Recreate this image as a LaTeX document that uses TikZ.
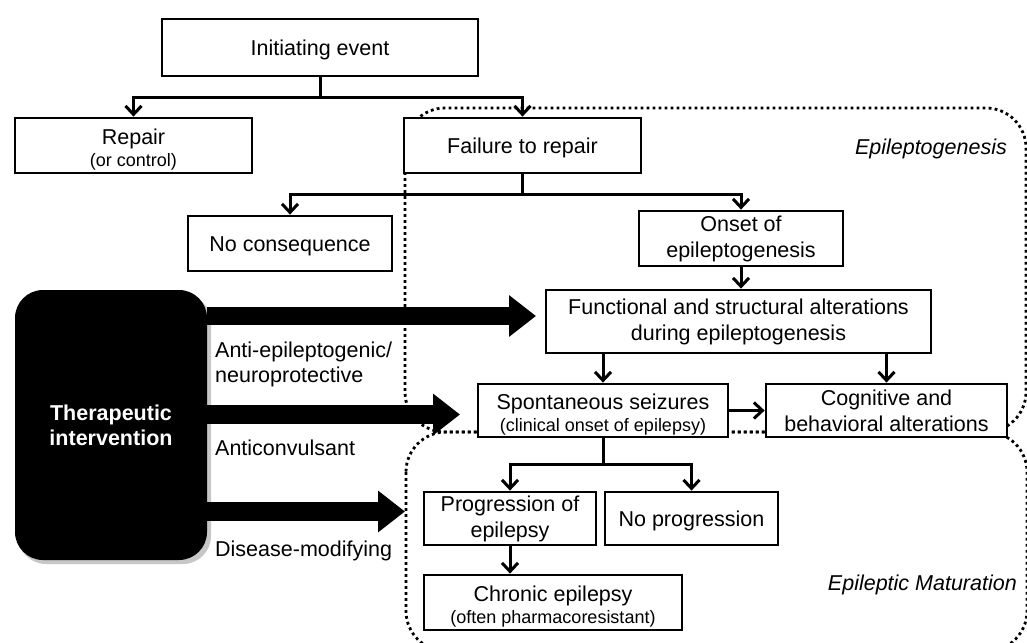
\documentclass[tikz,border=0pt]{standalone}
\usepackage{fontspec}
\setmainfont{Liberation Sans}
\usetikzlibrary{arrows.meta}
\newcommand\mainsz{\fontsize{21.5}{26}\selectfont}
\newcommand\smallsz{\fontsize{18}{21}\selectfont}
\begin{document}
\begin{tikzpicture}[x=1pt,y=-1pt,
  box/.style={draw,line width=2.8pt,fill=white,inner sep=0pt,align=center,font=\mainsz,
              execute at begin node={\rule{0pt}{21pt}}},
  conn/.style={line width=3pt,-{Straight Barb[length=8.5pt,width=16pt]}},
  plain/.style={line width=3pt},
  region/.style={line width=2.8pt,dash pattern=on 2.8pt off 3.2pt,rounded corners=40pt},
  bigarrow/.style={line width=18.5pt,-{Triangle[length=27pt,width=40pt]}},
  lbl/.style={font=\mainsz,inner sep=0pt},
  ital/.style={font=\mainsz\itshape,inner sep=0pt}]
\useasboundingbox (0,0) rectangle (1027,642);
\clip (0,0) rectangle (1027,642);
\fill[white] (0,0) rectangle (1027,642);

% dotted regions
\draw[region] (405,108) rectangle (1026,432);
\draw[region] (406,432) rectangle (1027,651);

% therapeutic intervention
\fill[black!22,rounded corners=28pt] (18,294) rectangle (211,564);
\node[fill=black,rounded corners=28pt,minimum width=192pt,minimum height=270pt,inner sep=0pt,
      align=center,text=white,font=\mainsz\bfseries] (ther) at (111,425) {Therapeutic\\[-1pt]intervention};

% boxes
\node[box,minimum width=316pt,minimum height=57pt] (init) at (320,47.5) {Initiating event};
\node[box,minimum width=237pt,minimum height=55pt] (repair) at (133.5,145.5) {\rule{0pt}{23pt}Repair\\[-4pt]{\smallsz (or control)}};
\node[box,minimum width=237pt,minimum height=55pt] (fail) at (522.5,145.5) {Failure to repair};
\node[box,minimum width=204pt,minimum height=55pt] (nocons) at (290,243.5) {No consequence};
\node[box,minimum width=204pt,minimum height=55pt] (onset) at (741,238.5) {Onset of\\epileptogenesis};
\node[box,minimum width=385pt,minimum height=63pt] (func) at (738.5,321.5) {Functional and structural alterations\\during epileptogenesis};
\node[box,minimum width=250pt,minimum height=53pt] (spont) at (603,410.5) {\rule{0pt}{24pt}Spontaneous seizures\\[-4.5pt]{\smallsz (clinical onset of epilepsy)}};
\node[box,minimum width=241pt,minimum height=53pt] (cogn) at (886.5,410.5) {Cognitive and\\behavioral alterations};
\node[box,minimum width=172pt,minimum height=53pt] (prog) at (510,518.5) {Progression of\\epilepsy};
\node[box,minimum width=173pt,minimum height=53pt] (noprog) at (691.5,518.5) {No progression};
\node[box,minimum width=258pt,minimum height=55pt] (chronic) at (553,602.5) {\rule{0pt}{23.5pt}Chronic epilepsy\\[-4.5pt]{\smallsz (often pharmacoresistant)}};

% connectors
\coordinate (j1) at (320,97);
\draw[plain] (init.south) -- (j1);
\draw[conn] (j1) -| (repair.north);
\draw[conn] (j1) -| (fail.north);
\coordinate (j2) at (522.5,194);
\draw[plain] (fail.south) -- (j2);
\draw[conn] (j2) -| (nocons.north);
\draw[conn] (j2) -| (onset.north);
\draw[conn] (onset.south) -- (onset.south |- func.north);
\draw[conn] (spont.north |- func.south) -- (spont.north);
\draw[conn] (cogn.north |- func.south) -- (cogn.north);
\draw[conn] (spont.east) -- (cogn.west);
\coordinate (j3) at (603,464);
\draw[plain] (spont.south) -- (j3);
\draw[conn] (j3) -| (prog.north);
\draw[conn] (j3) -| (noprog.north);
\draw[conn] (prog.south) -- (prog.south |- chronic.north);

% big arrows
\coordinate (t1) at (536,316);
\coordinate (t2) at (460,414.5);
\coordinate (t3) at (405,511.5);
\draw[bigarrow] (ther.east |- t1) -- (t1);
\draw[bigarrow] (ther.east |- t2) -- (t2);
\draw[bigarrow] (ther.east |- t3) -- (t3);

% labels
\node[lbl,anchor=base west,align=left] (l1) at (215,382.5) {Anti-epileptogenic/\\[-0.5pt]neuroprotective};
\node[lbl,anchor=base west] (l2) at (215,455) {Anticonvulsant};
\node[lbl,anchor=base west] (l3) at (215,556) {Disease-modifying};
\node[ital,anchor=base east] (epi) at (1007,154) {Epileptogenesis};
\node[ital,anchor=base east] (mat) at (1017,590) {Epileptic Maturation};
\end{tikzpicture}
\end{document}
